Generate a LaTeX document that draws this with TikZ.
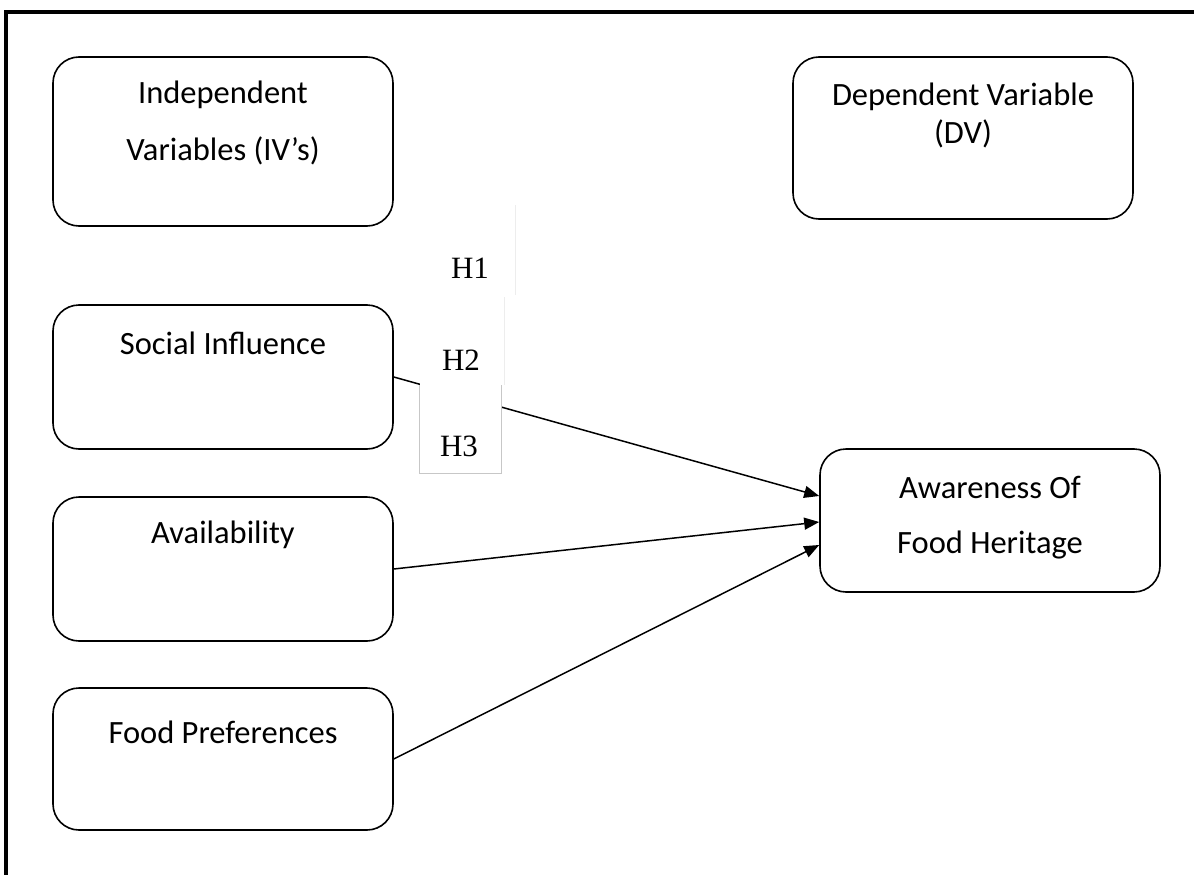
\documentclass[tikz,border=0pt]{standalone}
\usepackage{fontspec}
\setmainfont{Carlito}
\newfontfamily\hfont{Liberation Serif}
\usetikzlibrary{arrows.meta}
\begin{document}
\begin{tikzpicture}[x=1pt,y=-1pt,>={Triangle[length=15pt,width=12pt]},
    font=\fontsize{32.5}{38}\selectfont,
    varbox/.style={draw,line width=1.6pt,rounded corners=26pt,minimum width=340pt,inner sep=0pt},
    vtext/.style={anchor=north,inner sep=0pt,align=center},
    link/.style={->,line width=1.5pt},
    hmask/.style={fill=white},
    hedge/.style={line width=1pt}]
                \def\lx{223} \def\rx{963}
                \useasboundingbox (0,0) rectangle (1194,875);
                \fill[white] (0,0) rectangle (1194,875);
                \draw[line width=4pt] (5.5,900)--(5.5,12.5)--(1220,12.5);
                %===========================================
                \node[varbox,minimum height=169pt,label={[vtext,yshift=-24.5pt]north:Independent\\[19pt]Variables (IV's)}] (iv) at (\lx,141.5) {};
                \node[varbox,minimum height=162pt,label={[vtext,yshift=-26.5pt]north:Dependent Variable\\(DV)}] (dv) at (\rx,138) {};
                \node[varbox,minimum height=144pt,label={[vtext,yshift=-28pt]north:Social Influence}] (si) at (\lx,377) {};
                \node[varbox,minimum height=144pt,label={[vtext,yshift=-24.5pt]north:Availability}] (av) at (\lx,569) {};
                \node[varbox,minimum height=142pt,label={[vtext,yshift=-33.5pt]north:Food Preferences}] (fp) at (\lx,759) {};
                \node[varbox,minimum height=143pt,label={[vtext,yshift=-27.5pt]north:Awareness Of\\[17pt]Food Heritage}] (aw) at (990,520.5) {};
                %===========================================
                \draw[link] (si.east)--([yshift=24.5pt]aw.west);
                \draw[link] (av.east)--([yshift=-1.5pt]aw.west);
                \draw[link] (fp.east)--([yshift=-24.5pt]aw.west);
                % white text boxes of the hypotheses
                \fill[hmask] (420,205) rectangle (515,296);
                \fill[hmask] (420,297) rectangle (504,385);
                \fill[hmask] (419,385) rectangle (501,473);
                \draw[hedge,black!7] (515,205)--(515,295);
                \draw[hedge,black!7] (504,297)--(504,385);
                \draw[hedge,black!22] (419,385)--(419,473)--(501,473)--(501,385);
                \foreach \n/\hx/\hy in {1/470/268,2/461/360,3/459/446}
                    \node[font=\hfont\fontsize{31}{31}\selectfont] (h\n) at (\hx,\hy) {H\n};
            \end{tikzpicture}
\end{document}
